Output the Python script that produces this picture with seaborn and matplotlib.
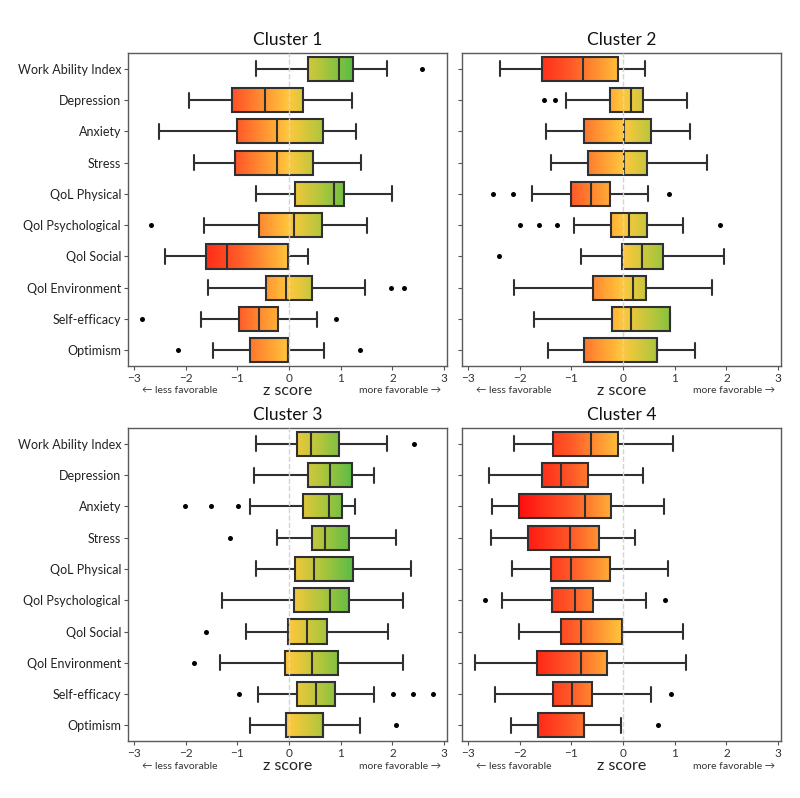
import numpy as np
import pandas as pd
import matplotlib.pyplot as plt
import seaborn as sns
from matplotlib.colors import LinearSegmentedColormap, Normalize

sns.set_style("ticks")
plt.rcParams["font.family"] = ["Lato", "DejaVu Sans"]

metrics = ["Work Ability Index", "Depression", "Anxiety", "Stress", "QoL Physical",
           "Qol Psychological", "Qol Social", "Qol Environment", "Self-efficacy", "Optimism"]

# per cluster: whisker low, Q1, median, Q3, whisker high, outliers (z scores)
c1_lo = [-0.64, -1.94, -2.52, -1.84, -0.64, -1.64, -2.40, -1.58, -1.71, -1.47]
c1_q1 = [0.36, -1.10, -1.00, -1.04, 0.12, -0.59, -1.61, -0.45, -0.97, -0.75]
c1_md = [0.96, -0.47, -0.23, -0.23, 0.87, 0.10, -1.21, -0.06, -0.59, -0.03]
c1_q3 = [1.23, 0.27, 0.65, 0.47, 1.07, 0.63, -0.03, 0.44, -0.22, -0.03]
c1_hi = [1.89, 1.22, 1.29, 1.39, 2.00, 1.50, 0.37, 1.46, 0.54, 0.68]
c1_out = [[2.57], [], [], [], [], [-2.67], [], [1.97, 2.23], [-2.84, 0.91], [-2.15, 1.38]]

c2_lo = [-2.38, -1.11, -1.50, -1.39, -1.77, -0.95, -0.82, -2.11, -1.73, -1.46]
c2_q1 = [-1.57, -0.26, -0.75, -0.69, -1.01, -0.24, -0.03, -0.58, -0.21, -0.75]
c2_md = [-0.78, 0.16, 0.02, 0.01, -0.63, 0.12, 0.36, 0.19, 0.15, 0.66]
c2_q3 = [-0.10, 0.38, 0.53, 0.46, -0.26, 0.46, 0.77, 0.44, 0.90, 0.66]
c2_hi = [0.43, 1.23, 1.30, 1.62, 0.49, 1.16, 1.96, 1.72, 0.90, 1.39]
c2_out = [[], [-1.53, -1.32], [], [], [-2.52, -2.14, 0.88], [-1.99, -1.63, -1.29, 1.87],
          [-2.41], [], [], []]

c3_lo = [-0.65, -0.69, -0.76, -0.23, -0.64, -1.30, -0.83, -1.34, -0.61, -0.75]
c3_q1 = [0.16, 0.36, 0.26, 0.45, 0.12, 0.10, -0.03, -0.08, 0.15, -0.06]
c3_md = [0.43, 0.79, 0.78, 0.70, 0.49, 0.80, 0.35, 0.44, 0.52, 0.66]
c3_q3 = [0.96, 1.21, 1.02, 1.15, 1.23, 1.15, 0.74, 0.94, 0.89, 0.66]
c3_hi = [1.89, 1.64, 1.27, 2.07, 2.36, 2.21, 1.92, 2.21, 1.64, 1.38]
c3_out = [[2.42], [], [-2.02, -1.51, -0.99], [-1.15], [], [], [-1.61], [-1.85],
          [-0.97, 2.02, 2.39, 2.78], [2.07]]

c4_lo = [-2.12, -2.60, -2.54, -2.55, -2.16, -2.34, -2.01, -2.87, -2.48, -2.17]
c4_q1 = [-1.35, -1.58, -2.02, -1.85, -1.39, -1.38, -1.21, -1.66, -1.35, -1.65]
c4_md = [-0.63, -1.21, -0.74, -1.03, -1.01, -0.94, -0.82, -0.82, -0.99, -0.75]
c4_q3 = [-0.10, -0.68, -0.23, -0.46, -0.26, -0.59, -0.03, -0.31, -0.60, -0.75]
c4_hi = [0.97, 0.38, 0.79, 0.23, 0.87, 0.45, 1.16, 1.21, 0.54, -0.05]
c4_out = [[], [], [], [], [], [-2.67, 0.81], [], [], [0.93], [0.67]]

clusters = [
    ("Cluster 1", c1_lo, c1_q1, c1_md, c1_q3, c1_hi, c1_out),
    ("Cluster 2", c2_lo, c2_q1, c2_md, c2_q3, c2_hi, c2_out),
    ("Cluster 3", c3_lo, c3_q1, c3_md, c3_q3, c3_hi, c3_out),
    ("Cluster 4", c4_lo, c4_q1, c4_md, c4_q3, c4_hi, c4_out),
]

cmap = LinearSegmentedColormap.from_list(
    "rg", [(0.0, "#ff1010"), (0.3, "#ff5a28"), (0.6, "#ffc83c"),
           (0.78, "#b4c63c"), (1.0, "#4cbb47")])
norm = Normalize(-2.0, 1.33)

fig = plt.figure(figsize=(8, 7.98), dpi=100)
positions = [(0.16, 0.5414), (0.5775, 0.5414), (0.16, 0.0714), (0.5775, 0.0714)]

for k, (title, lo, q1, md, q3, hi, outs) in enumerate(clusters):
    ax = fig.add_axes([positions[k][0], positions[k][1], 0.399, 0.392])

    rows = []
    for i, m in enumerate(metrics):
        for v in (lo[i], q1[i], md[i], q3[i], hi[i]):
            rows.append({"metric": m, "z": v})
    df = pd.DataFrame(rows)
    out_df = pd.DataFrame([{"metric": m, "z": v} for m, vals in zip(metrics, outs) for v in vals])

    sns.boxplot(data=df, x="z", y="metric", order=metrics, orient="h", whis=(0, 100),
                width=0.77, color="white", linecolor="#303030", linewidth=1.5,
                fliersize=0, capwidths=0.48, ax=ax)

    for patch in list(ax.patches):
        bb = patch.get_path().get_extents()
        grad = np.linspace(bb.x0, bb.x1, 200).reshape(1, -1)
        ax.imshow(grad, extent=(bb.x0, bb.x1, bb.y1, bb.y0), cmap=cmap, norm=norm,
                  aspect="auto", zorder=1.5, interpolation="bilinear")
        patch.set_facecolor("none")
        patch.set_zorder(2.2)

    sns.stripplot(data=out_df, x="z", y="metric", order=metrics, orient="h",
                  jitter=False, color="black", size=3.6, ax=ax, zorder=3)

    ax.axvline(0, color="#d4d4d4", lw=1, ls="--", zorder=3.5)
    ax.set_xlim(-3.12, 3.06)
    ax.set_ylim(9.5, -0.5)
    ax.set_xticks([-3, -2, -1, 0, 1, 2, 3])
    ax.tick_params(axis="x", labelsize=8.5, length=3, colors="#555555", labelcolor="#333333", pad=2)
    ax.tick_params(axis="y", labelsize=9, length=3, colors="#555555", labelcolor="#222222", pad=2)
    for s in ax.spines.values():
        s.set_visible(True)
        s.set_color("#5a5a5a")
        s.set_linewidth(1.0)
    ax.set_ylabel("")
    if k % 2 == 1:
        ax.set_yticklabels([])
    ax.set_title(title, fontsize=12.5, pad=6, color="#111111")
    ax.set_xlabel("z score", fontsize=11.5, labelpad=0, color="#222222")
    ax.text(0.044, -0.08, "\u2190 less favorable", transform=ax.transAxes, ha="left",
            va="center", fontsize=7.5, color="#333333")
    ax.text(0.98, -0.08, "more favorable \u2192", transform=ax.transAxes, ha="right",
            va="center", fontsize=7.5, color="#333333")

fig.savefig("out.png", dpi=100)
